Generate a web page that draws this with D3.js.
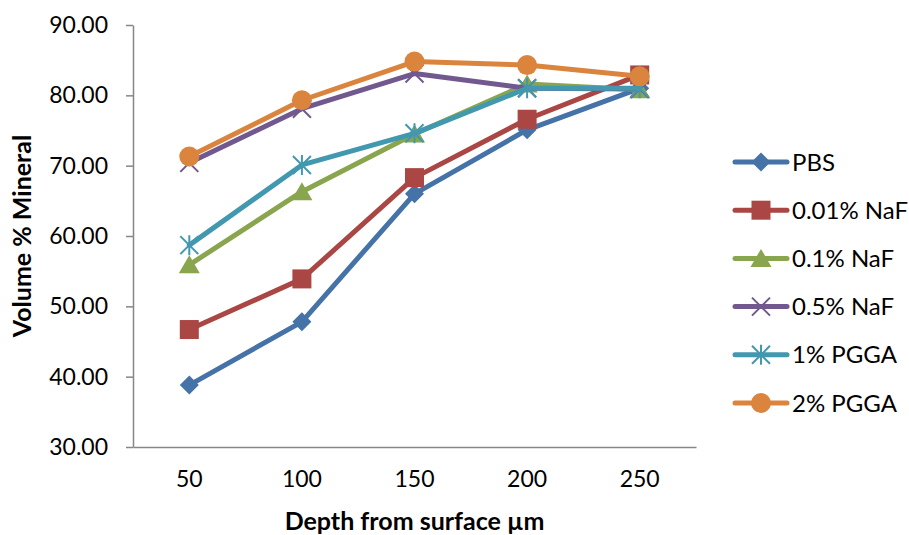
<!DOCTYPE html>
<html>
<head>
<meta charset="utf-8">
<script src="https://cdn.jsdelivr.net/npm/d3@7"></script>
<style>
  body { margin: 0; background: #fff; }
  text { font-family: Lato, "Open Sans", sans-serif; fill: #000; }
</style>
</head>
<body>
<svg id="chart" width="909" height="535"></svg>
<script>
// depths (categories)
var depths = ["50", "100", "150", "200", "250"];

// volume % mineral per treatment
var pbs      = [38.8, 47.8, 66.0, 75.1, 81.0];
var naf001   = [46.7, 53.9, 68.3, 76.6, 82.9];
var naf01    = [55.9, 66.3, 74.5, 81.6, 80.8];
var naf05    = [70.4, 78.1, 83.1, 81.0, 80.9];
var pgga1    = [58.7, 70.1, 74.6, 81.0, 81.0];
var pgga2    = [71.3, 79.3, 84.8, 84.3, 82.7];

var yTicks = [30, 40, 50, 60, 70, 80, 90];

var series = [
    {name: "PBS",       values: pbs,    color: "#4572A7", symbol: "diamond"},
    {name: "0.01% NaF", values: naf001, color: "#AA4643", symbol: "square"},
    {name: "0.1% NaF",  values: naf01,  color: "#89A54E", symbol: "triangle"},
    {name: "0.5% NaF",  values: naf05,  color: "#71588F", symbol: "x"},
    {name: "1% PGGA",   values: pgga1,  color: "#4198AF", symbol: "star"},
    {name: "2% PGGA",   values: pgga2,  color: "#DB843D", symbol: "circle"}
];

var svg = d3.select("#chart"),
    margin = {top: 25, right: 213, bottom: 88, left: 133},
    width = 909 - margin.left - margin.right,
    height = 535 - margin.top - margin.bottom;

var x = d3.scaleBand().domain(depths).range([0, width]);
var y = d3.scaleLinear().domain([30, 90]).range([height, 0]);

var g = svg.append("g")
    .attr("transform", "translate(" + margin.left + "," + margin.top + ")");

// y axis
var yAxis = g.append("g")
    .call(d3.axisLeft(y).tickValues(yTicks).tickSize(7).tickSizeOuter(0).tickFormat(d3.format(".2f")));
yAxis.selectAll("text").attr("font-size", "23px").attr("dx", "-15").attr("fill", "#000");

// x axis with ticks between categories
var xAxis = g.append("g")
    .attr("transform", "translate(0," + height + ")")
    .call(d3.axisBottom(x).tickSize(0).tickSizeOuter(0));
xAxis.selectAll("text").attr("font-size", "23px").attr("dy", "1.6em").attr("fill", "#000");
xAxis.selectAll(".tick line").remove();
var bounds = depths.map(function(d) { return x(d); }).concat([width]);
xAxis.selectAll(".sep").data(bounds).enter().append("line")
    .attr("x1", function(d) { return d; })
    .attr("x2", function(d) { return d; })
    .attr("y1", 0).attr("y2", 7);

g.selectAll(".domain, .tick line, .sep").attr("stroke", "#868686").attr("stroke-width", 1.5);

// axis titles
svg.append("text")
    .attr("transform", "translate(31," + (margin.top + height / 2) + ") rotate(-90)")
    .attr("text-anchor", "middle")
    .attr("font-size", "25px").attr("font-weight", "bold")
    .text("Volume % Mineral");

svg.append("text")
    .attr("x", margin.left + width / 2)
    .attr("y", 530)
    .attr("text-anchor", "middle")
    .attr("font-size", "25px").attr("font-weight", "bold")
    .text("Depth from surface µm");

var cx = function(i) { return x(depths[i]) + x.bandwidth() / 2; };

function drawMarker(sel, s, px, py) {
    var m = sel.append("g").attr("transform", "translate(" + px + "," + py + ")");
    if (s.symbol === "diamond") {
        m.append("path").attr("d", "M0,-9.5L9.5,0L0,9.5L-9.5,0Z").attr("fill", s.color);
    } else if (s.symbol === "square") {
        m.append("rect").attr("x", -9.5).attr("y", -9.5).attr("width", 19).attr("height", 19).attr("fill", s.color);
    } else if (s.symbol === "triangle") {
        m.append("path").attr("d", "M0,-9.5L10.5,8.5L-10.5,8.5Z").attr("fill", s.color);
    } else if (s.symbol === "x") {
        m.append("path").attr("d", "M-9,-9L9,9M9,-9L-9,9").attr("stroke", s.color).attr("stroke-width", 2);
    } else if (s.symbol === "star") {
        m.append("path").attr("d", "M-9,-9L9,9M9,-9L-9,9M0,-10L0,10")
            .attr("stroke", s.color).attr("stroke-width", 2);
    } else {
        m.append("circle").attr("r", 10).attr("fill", s.color);
    }
}

var line = d3.line()
    .x(function(d, i) { return cx(i); })
    .y(function(d) { return y(d); });

series.forEach(function(s) {
    var sg = g.append("g");
    sg.append("path")
        .datum(s.values)
        .attr("fill", "none")
        .attr("stroke", s.color)
        .attr("stroke-width", 5)
        .attr("stroke-linejoin", "round")
        .attr("stroke-linecap", "round")
        .attr("d", line);
    s.values.forEach(function(v, i) {
        drawMarker(sg, s, cx(i), y(v));
    });
});

// legend
var legend = svg.append("g").attr("transform", "translate(733,162)");
series.forEach(function(s, i) {
    var lg = legend.append("g").attr("transform", "translate(0," + i * 48.2 + ")");
    lg.append("line")
        .attr("x1", 2).attr("x2", 54)
        .attr("stroke", s.color).attr("stroke-width", 5)
        .attr("stroke-linecap", "round");
    drawMarker(lg, s, 28, 0);
    lg.append("text")
        .attr("x", 59).attr("y", 0).attr("dy", "0.36em")
        .attr("font-size", "24px")
        .text(s.name);
});
</script>
</body>
</html>
